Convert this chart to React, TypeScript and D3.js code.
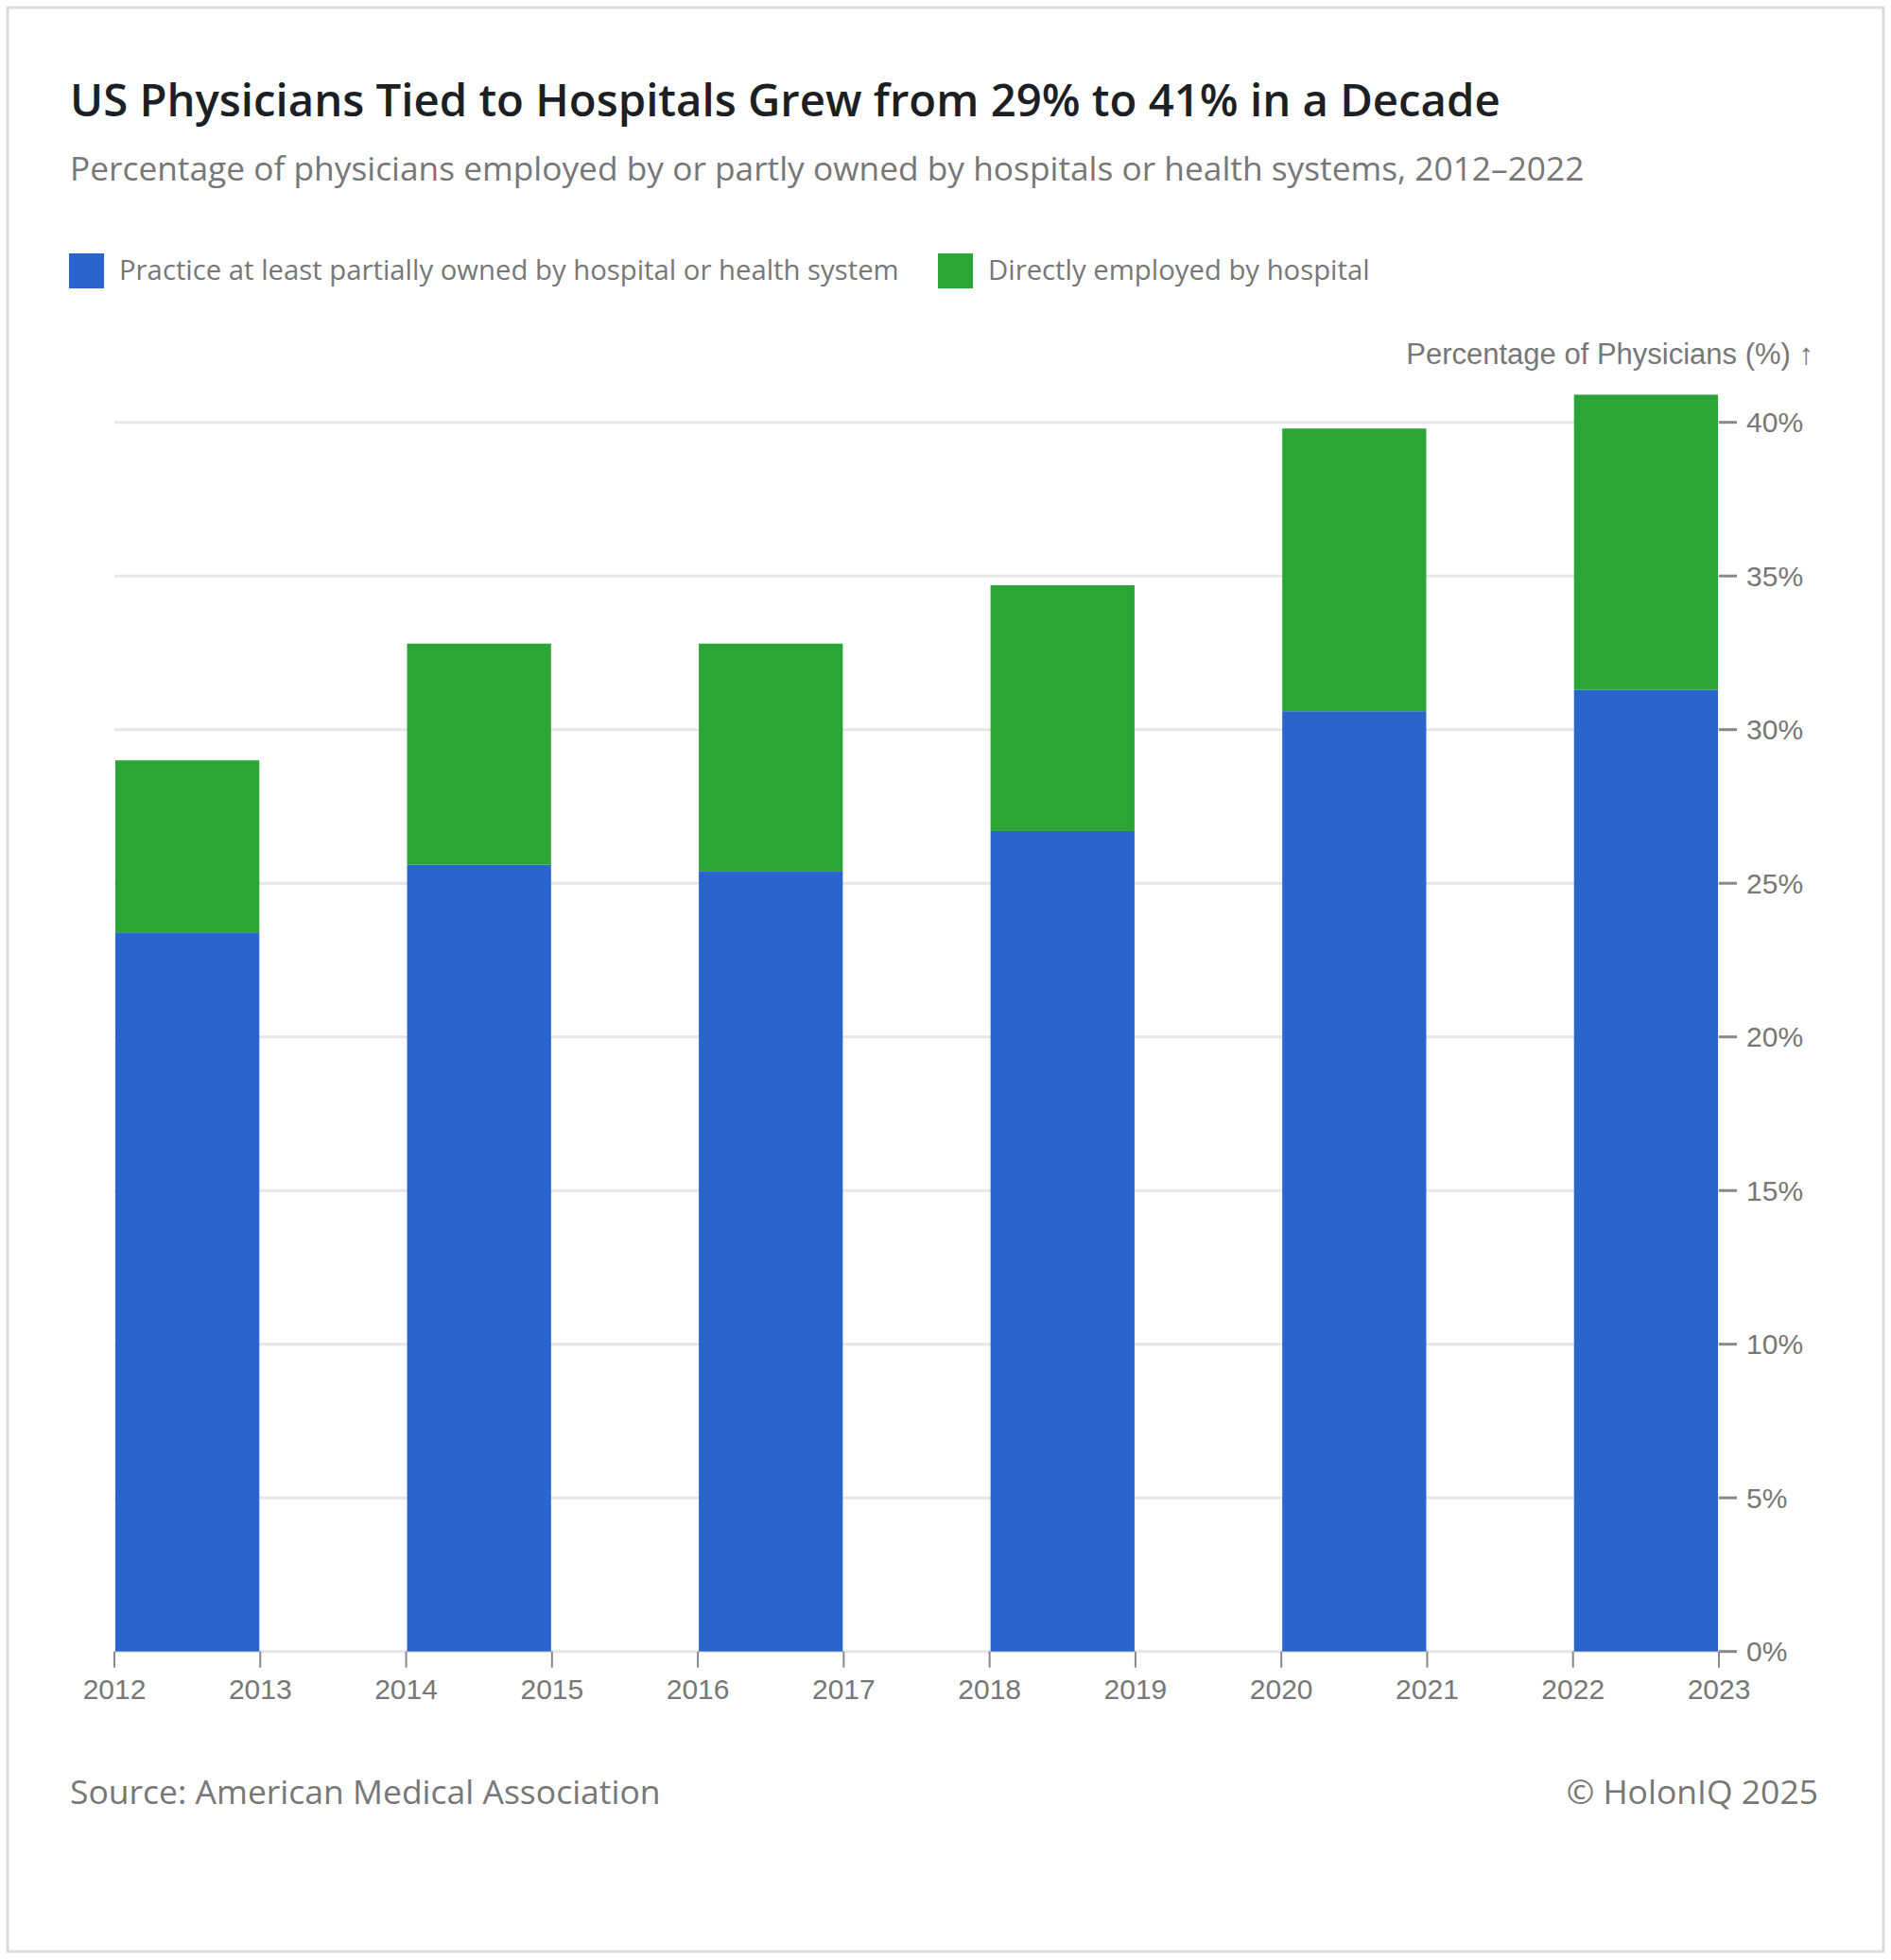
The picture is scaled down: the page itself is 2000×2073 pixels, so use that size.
import * as d3 from "d3";

// data (percent of physicians)
const years = [2012, 2014, 2016, 2018, 2020, 2022];
const practiceOwned = [23.4, 25.6, 25.4, 26.7, 30.6, 31.3];
const directlyEmployed = [5.6, 7.2, 7.4, 8.0, 9.2, 9.6];
const seriesNames = [
  "Practice at least partially owned by hospital or health system",
  "Directly employed by hospital",
];
const seriesColors = ["#2965cc", "#2ba535"];
const yTicks = [0, 5, 10, 15, 20, 25, 30, 35, 40];
const xTicks = d3.range(2012, 2024);

const W = 2000;
const H = 2073;
const sans = "'Open Sans', 'Noto Sans', sans-serif";
const axisFont = "'Liberation Sans', Arial, sans-serif";
const grey = "#777";

export default function App() {
  const rows = years.map((year, i) => ({
    year,
    owned: practiceOwned[i],
    direct: directlyEmployed[i],
  }));
  const stack = d3.stack<any>().keys(["owned", "direct"]);
  const layers = stack(rows);

  const x = d3.scaleLinear().domain([2012, 2023]).range([121, 1818]);
  const maxTotal = d3.max(rows, (d) => d.owned + d.direct) || 41;
  const y = d3
    .scaleLinear()
    .domain([0, maxTotal])
    .range([1746.7, 1746.7 - maxTotal * 32.5]);

  return (
    <svg
      width={W}
      height={H}
      style={{ position: "absolute", left: 0, top: 0, background: "#fff" }}
    >
      <rect x={8} y={8} width={1984} height={2056} fill="#fff" stroke="#dddddd" strokeWidth={3} />

      <text x={74} y={123} fontFamily={sans} fontWeight={600} fontSize={47.3} fill="#1c1f23">
        US Physicians Tied to Hospitals Grew from 29% to 41% in a Decade
      </text>
      <text x={74} y={191} fontFamily={sans} fontSize={35.3} fill={grey}>
        Percentage of physicians employed by or partly owned by hospitals or health systems, 2012–2022
      </text>

      {/* legend */}
      <g fontFamily={sans} fontSize={29.3} fill={grey}>
        <rect x={73} y={268} width={37} height={37} fill={seriesColors[0]} />
        <text x={126} y={296}>{seriesNames[0]}</text>
        <rect x={992} y={268} width={37} height={37} fill={seriesColors[1]} />
        <text x={1045} y={296}>{seriesNames[1]}</text>
      </g>

      <text x={1918} y={385} fontFamily={axisFont} fontSize={31} fill={grey} textAnchor="end">
        Percentage of Physicians (%) ↑
      </text>

      {/* grid */}
      {yTicks.map((t) => (
        <line key={t} x1={121} x2={1818} y1={y(t)} y2={y(t)} stroke="#e6e6e6" strokeWidth={3} />
      ))}

      {/* bars */}
      {layers.map((layer, li) => (
        <g key={layer.key} fill={seriesColors[li]}>
          {layer.map((d, i) => (
            <rect
              key={i}
              x={x(years[i]) + 1}
              width={x(years[i] + 1) - x(years[i]) - 2}
              y={y(d[1])}
              height={y(d[0]) - y(d[1])}
            />
          ))}
        </g>
      ))}

      {/* y axis on the right */}
      <g fontFamily={axisFont} fontSize={30} fill={grey}>
        {yTicks.map((t) => (
          <g key={t} transform={`translate(1818,${y(t)})`}>
            <line x1={0} x2={19} stroke="#888" strokeWidth={3} />
            <text x={29} dy="0.35em">{t}%</text>
          </g>
        ))}
      </g>

      {/* x axis */}
      <g fontFamily={axisFont} fontSize={30} fill={grey}>
        {xTicks.map((t) => (
          <g key={t} transform={`translate(${x(t)},${y(0)})`}>
            <line y1={0} y2={17} stroke="#888" strokeWidth={2} />
            <text y={50} textAnchor="middle">{t}</text>
          </g>
        ))}
      </g>

      <text x={74} y={1908} fontFamily={sans} fontSize={35.5} fill={grey}>
        Source: American Medical Association
      </text>
      <text x={1923} y={1908} fontFamily={sans} fontSize={35.5} fill={grey} textAnchor="end">
        © HolonIQ 2025
      </text>
    </svg>
  );
}
